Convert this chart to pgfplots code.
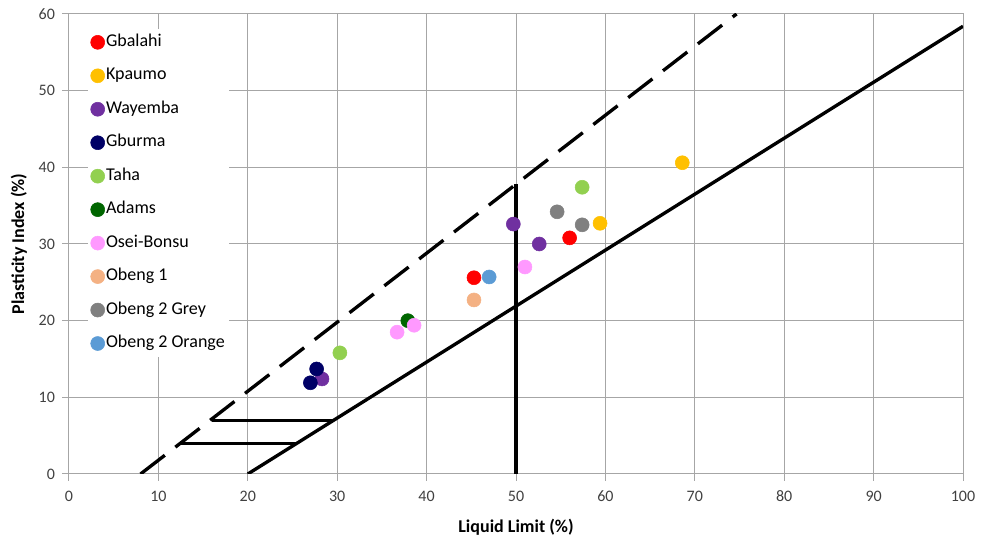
\documentclass[border=0pt]{standalone}
\usepackage{pgfplots}
\pgfplotsset{compat=1.18}
\usepackage{fontspec}
\setmainfont{Carlito}
\begin{document}
\begin{tikzpicture}[x=1pt,y=1pt]
\definecolor{gridgray}{HTML}{A6A6A6}
\definecolor{ticktext}{HTML}{404040}
\begin{axis}[
  at={(0,0)}, anchor=south west,
  scale only axis, width=670.5pt, height=345pt,
  xmin=0, xmax=100, ymin=0, ymax=60,
  xtick={0,10,...,100}, ytick={0,10,...,60},
  grid=major, major grid style={gridgray, line width=0.75pt},
  axis line style={gridgray, line width=0.75pt},
  tick style={gridgray, line width=0.75pt},
  tick align=outside, major tick length=5pt,
  xtick pos=bottom, ytick pos=left,
  ticklabel style={font=\fontsize{12}{14}\selectfont, text=ticktext},
  xticklabel style={yshift=-4pt},
  yticklabel style={xshift=-2pt},
  /pgf/number format/assume math mode=true,
  xlabel={\textbf{Liquid Limit (\%)}},
  ylabel={\textbf{Plasticity Index (\%)}},
  label style={font=\fontsize{13.5}{15}\selectfont},
  xlabel style={yshift=-6pt},
  ylabel style={yshift=2pt},
  legend style={at={(0.021,0.968)}, anchor=north west, draw=none, fill=white,
    font=\fontsize{13.5}{15}\selectfont, row sep=11.1pt, legend cell align=left,
    inner xsep=2pt, inner ysep=3pt,
    nodes={inner xsep=1pt, text height=8pt, text depth=2pt}},
  legend image code/.code={\draw[#1] plot coordinates {(0.2cm,0cm)};},
  every axis plot/.append style={only marks, mark=*, mark size=5.25pt},
]
\addplot[color=red] coordinates {(45.3,25.6) (56.0,30.8)};
\addlegendentry{Gbalahi}
\addplot[color={rgb,255:red,255;green,192;blue,0}] coordinates {(68.6,40.6) (59.4,32.7)};
\addlegendentry{Kpaumo}
\addplot[color={rgb,255:red,112;green,48;blue,160}] coordinates {(49.7,32.6) (52.6,30.0) (28.3,12.4)};
\addlegendentry{Wayemba}
\addplot[color={rgb,255:red,0;green,0;blue,102}] coordinates {(27.0,11.9) (27.7,13.7)};
\addlegendentry{Gburma}
\addplot[color={rgb,255:red,146;green,208;blue,80}] coordinates {(57.4,37.4) (30.3,15.8)};
\addlegendentry{Taha}
\addplot[color={rgb,255:red,0;green,102;blue,0}] coordinates {(37.9,20.0)};
\addlegendentry{Adams}
\addplot[color={rgb,255:red,255;green,153;blue,255}] coordinates {(36.7,18.5) (38.6,19.4) (51.0,27.0)};
\addlegendentry{Osei-Bonsu}
\addplot[color={rgb,255:red,244;green,177;blue,131}] coordinates {(45.3,22.7)};
\addlegendentry{Obeng 1}
\addplot[color={rgb,255:red,128;green,128;blue,128}] coordinates {(54.6,34.2) (57.4,32.5)};
\addlegendentry{Obeng 2 Grey}
\addplot[color={rgb,255:red,91;green,155;blue,213}] coordinates {(47.0,25.7)};
\addlegendentry{Obeng 2 Orange}
% classification lines
\addplot[black, line width=2.5pt, no marks, sharp plot, forget plot] coordinates {(20,0) (100,58.4)};
\addplot[black, line width=2.5pt, no marks, sharp plot, forget plot, dash pattern=on 23pt off 10pt] coordinates {(8,0) (74.67,60)};
\addplot[black, line width=2.5pt, no marks, sharp plot, forget plot] coordinates {(50,0) (50,37.8)};
\addplot[black, line width=2.5pt, no marks, sharp plot, forget plot] coordinates {(16,7) (29.6,7)};
\addplot[black, line width=2.5pt, no marks, sharp plot, forget plot] coordinates {(12.4,4) (25.5,4)};
\end{axis}
\pgfresetboundingbox
\useasboundingbox (-51.75pt,-51pt) rectangle (684pt,355.5pt);
\end{tikzpicture}
\end{document}
